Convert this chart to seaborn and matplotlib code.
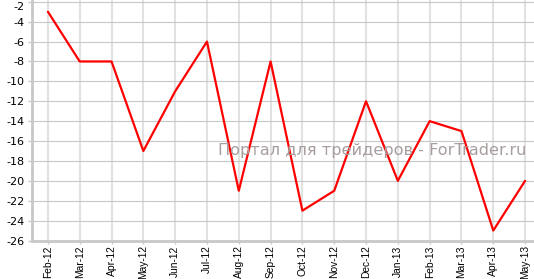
import matplotlib
matplotlib.use("Agg")
import matplotlib.pyplot as plt
import seaborn as sns
import pandas as pd

months = ["Feb-12", "Mar-12", "Apr-12", "May-12", "Jun-12", "Jul-12", "Aug-12", "Sep-12",
          "Oct-12", "Nov-12", "Dec-12", "Jan-13", "Feb-13", "Mar-13", "Apr-13", "May-13"]
values = [-3, -8, -8, -17, -11, -6, -21, -8, -23, -21, -12, -20, -14, -15, -25, -20]
y_ticks = list(range(-26, -1, 2))
watermark = "Портал для трейдеров - ForTrader.ru"

sns.set_theme(style="white")
plt.rcParams["font.family"] = ["DejaVu Sans"]

df = pd.DataFrame({"month": months, "value": values})

fig = plt.figure(figsize=(5.34, 2.79), dpi=100)
ax = fig.add_axes([32 / 534, 38.5 / 279, 1 - 32 / 534, 1 - 38.5 / 279])

sns.lineplot(data=df, x="month", y="value", sort=False, color="#ff0000", linewidth=1.6, ax=ax, zorder=5)

ax.set_xlim(-0.5, 15.28)
ax.set_ylim(-26, -1.82)
ax.set_yticks(y_ticks)
ylabels = ax.set_yticklabels([str(v) for v in y_ticks], fontsize=8, color="black", family="DejaVu Sans")
ylabels[-1].set_va("top")
ax.set_xticks(range(len(months)))
ax.set_xticklabels(months, rotation=90, fontsize=7.4, color="black", family="Liberation Sans")

for v in y_ticks[1:]:
    ax.axhline(v, color="#c8c8c8", linewidth=0.8, zorder=1)
for i in range(len(months)):
    ax.axvline(i, color="#e2e2e2", linewidth=1.5, zorder=0.5)

ax.set_xlabel("")
ax.set_ylabel("")
for s in ["top", "right"]:
    ax.spines[s].set_visible(False)
for s in ["left", "bottom"]:
    ax.spines[s].set_color("#c8c8c8")
    ax.spines[s].set_linewidth(2)
ax.tick_params(axis="y", which="both", length=3, width=1, color="#c8c8c8", pad=2.5, left=True)
ax.tick_params(axis="x", which="both", length=2.5, width=1, color="#c8c8c8", pad=1, bottom=True)

fig.text(372 / 534, 1 - 150 / 279, watermark, ha="center", va="center", fontsize=11.6,
         color="#a89e9e", family="DejaVu Sans", zorder=3)

fig.savefig("out.png", dpi=100, facecolor="white")
